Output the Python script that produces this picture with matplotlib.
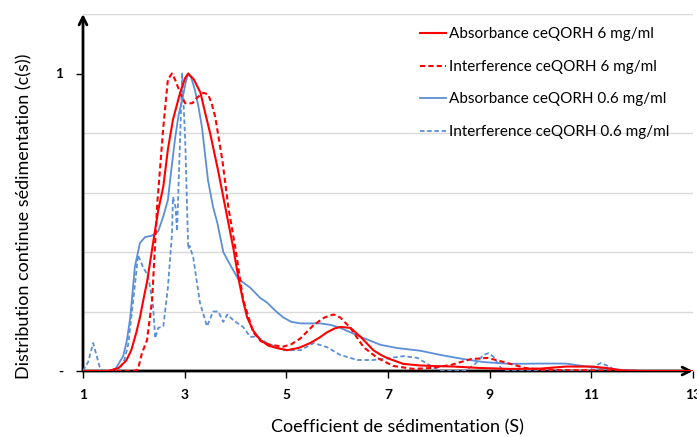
import matplotlib
matplotlib.use("Agg")
import matplotlib.pyplot as plt
from matplotlib.ticker import FixedLocator

plt.rcParams['font.family'] = ['Lato', 'DejaVu Sans']

# ---- data ----
abs6_x = [1.0, 1.5, 1.7, 1.85, 1.95, 2.05, 2.12, 2.2, 2.26, 2.36, 2.48, 2.58, 2.67, 2.77, 2.91, 3.01, 3.07,
          3.18, 3.31, 3.4, 3.5, 3.65, 3.8, 3.96, 4.06, 4.15, 4.23, 4.35, 4.49, 4.65, 4.82, 5.02, 5.25,
          5.47, 5.65, 5.8, 5.95, 6.06, 6.26, 6.46, 6.6, 6.71, 6.85, 6.99, 7.3, 7.6, 7.84, 8.3, 8.82,
          9.4, 10.0, 10.5, 11.0, 11.3, 11.6, 12.0, 13.0]
abs6_y = [0, 0, 0.01, 0.035, 0.07, 0.13, 0.18, 0.25, 0.30, 0.41, 0.54, 0.62, 0.745, 0.845, 0.935, 0.985, 1.0,
          0.98, 0.936, 0.87, 0.80, 0.68, 0.55, 0.41, 0.31, 0.235, 0.18, 0.135, 0.104, 0.085, 0.077, 0.07, 0.078,
          0.094, 0.112, 0.13, 0.143, 0.148, 0.145, 0.115, 0.09, 0.07, 0.055, 0.043, 0.024, 0.019, 0.017, 0.015, 0.01,
          0.007, 0.008, 0.015, 0.015, 0.01, 0.002, 0, 0]

int6_x = [1.0, 2.0, 2.08, 2.16, 2.26, 2.36, 2.46, 2.58, 2.67, 2.75, 2.81, 2.91, 3.01, 3.15, 3.25, 3.37,
          3.46, 3.53, 3.6, 3.74, 3.86, 4.0, 4.15, 4.35, 4.5, 4.68, 4.94, 5.1, 5.28, 5.54, 5.75, 5.93,
          6.06, 6.26, 6.52, 6.79, 7.1, 7.5, 7.84, 8.23, 8.63, 8.96, 9.28, 9.7, 10.0, 10.5, 11.0, 12.0, 13.0]
int6_y = [0, 0, 0.005, 0.06, 0.104, 0.24, 0.56, 0.82, 0.98, 1.0, 0.98, 0.935, 0.9, 0.9, 0.92, 0.935,
          0.93, 0.9, 0.855, 0.71, 0.55, 0.41, 0.24, 0.13, 0.1, 0.088, 0.082, 0.09, 0.11, 0.155, 0.18, 0.19,
          0.18, 0.145, 0.08, 0.044, 0.017, 0.007, 0.01, 0.02, 0.04, 0.044, 0.03, 0.01, 0.005, 0.003, 0.002, 0, 0]

abs06_x = [1.0, 1.55, 1.65, 1.79, 1.86, 1.93, 2.02, 2.12, 2.22, 2.36, 2.48, 2.58, 2.67, 2.74, 2.81, 2.88,
           2.95, 3.02, 3.07, 3.13, 3.2, 3.27, 3.34, 3.4, 3.46, 3.56, 3.64, 3.76, 3.84, 4.05, 4.29, 4.49,
           4.62, 4.8, 4.94, 5.1, 5.28, 5.67, 5.87, 6.06, 6.26, 6.46, 6.85, 7.19, 7.64, 8.03, 8.49, 8.88,
           9.4, 10.0, 10.5, 11.0, 11.5, 12.0, 13.0]
abs06_y = [0, 0, 0.01, 0.05, 0.1, 0.18, 0.35, 0.43, 0.45, 0.455, 0.47, 0.52, 0.575, 0.68, 0.78, 0.86,
           0.91, 0.97, 1.0, 0.985, 0.946, 0.89, 0.82, 0.73, 0.64, 0.55, 0.5, 0.4, 0.374, 0.31, 0.28, 0.245,
           0.23, 0.2, 0.18, 0.165, 0.16, 0.16, 0.155, 0.145, 0.13, 0.115, 0.088, 0.077, 0.068, 0.054, 0.04, 0.03,
           0.024, 0.025, 0.025, 0.013, 0.005, 0, 0]

int06_x = [1.0, 1.1, 1.2, 1.27, 1.33, 1.4, 1.7, 1.73, 1.82, 1.89, 1.99, 2.06, 2.08, 2.13, 2.18, 2.28,
           2.33, 2.38, 2.42, 2.48, 2.58, 2.67, 2.75, 2.77, 2.82, 2.85, 2.91, 2.95, 3.01, 3.07, 3.1, 3.17,
           3.3, 3.44, 3.56, 3.66, 3.76, 3.84, 3.96, 4.15, 4.29, 4.43, 4.62, 4.94, 5.28, 5.54, 5.8, 6.06,
           6.26, 6.4, 6.71, 7.05, 7.31, 7.58, 7.84, 8.03, 8.5, 8.69, 8.88, 8.98, 9.08, 9.22, 9.3, 10.9,
           11.05, 11.19, 11.35, 11.5, 13.0]
int06_y = [0, 0.03, 0.094, 0.05, 0.013, 0, 0, 0.01, 0.04, 0.09, 0.24, 0.35, 0.39, 0.37, 0.35, 0.32,
           0.27, 0.215, 0.11, 0.145, 0.15, 0.28, 0.46, 0.585, 0.55, 0.47, 0.78, 1.0, 0.78, 0.41, 0.42, 0.38,
           0.23, 0.15, 0.2, 0.2, 0.165, 0.19, 0.17, 0.148, 0.115, 0.115, 0.094, 0.07, 0.07, 0.094, 0.08, 0.054,
           0.044, 0.037, 0.037, 0.044, 0.05, 0.044, 0.017, 0, 0, 0.02, 0.054, 0.06, 0.047, 0.01, 0, 0,
           0.015, 0.027, 0.015, 0, 0]

series_labels = ["Absorbance ceQORH 6 mg/ml", "Interference ceQORH 6 mg/ml",
                 "Absorbance ceQORH 0.6 mg/ml", "Interference ceQORH 0.6 mg/ml"]
x_ticks = [1, 3, 5, 7, 9, 11, 13]
y_ticks = [0, 1]
y_tick_labels = ["-", "1"]
x_label = "Coefficient de sédimentation (S)"
y_label = "Distribution continue sédimentation (c(s))"

RED = "#FF0000"
BLUE = "#5B8FD7"

fig = plt.figure(figsize=(6.97, 4.37), dpi=100)
ax = fig.add_axes([83/697, 1 - 371/437, (693-83)/697, (371-14)/437])

ax.plot(abs6_x, abs6_y, color=RED, lw=1.5, label=series_labels[0], zorder=5)
ax.plot(int6_x, int6_y, color=RED, lw=1.5, ls=(0, (2.5, 1.5)), label=series_labels[1], zorder=5)
ax.plot(abs06_x, abs06_y, color=BLUE, lw=1.3, label=series_labels[2], zorder=4)
ax.plot(int06_x, int06_y, color=BLUE, lw=1.3, ls=(0, (2.5, 1.5)), label=series_labels[3], zorder=4)

ax.set_xlim(1, 13)
ax.set_ylim(0, 1.2)

for s in ax.spines.values():
    s.set_visible(False)

# gridlines every 0.2
ax.yaxis.set_minor_locator(FixedLocator([0.2, 0.4, 0.6, 0.8, 1.0, 1.2]))
ax.grid(True, which='minor', axis='y', color='#D9D9D9', lw=1)
ax.set_axisbelow(True)

ax.set_yticks(y_ticks)
ax.set_yticklabels(y_tick_labels, fontweight='bold', fontsize=10)
ax.tick_params(axis='y', which='major', length=5, width=1, pad=9, color='black')
ax.tick_params(axis='y', which='minor', length=0)

ax.set_xticks(x_ticks)
ax.set_xticklabels([str(t) for t in x_ticks], fontweight='bold', fontsize=10)
ax.tick_params(axis='x', length=5, width=1, pad=8, color='black')

# axis lines with arrows
ax.annotate('', xy=(1.0, 0), xytext=(0, 0), xycoords='axes fraction',
            arrowprops=dict(arrowstyle='->', lw=2, color='black', shrinkA=0, shrinkB=0,
                            mutation_scale=14), zorder=3)
ax.annotate('', xy=(0, 1.0), xytext=(0, 0), xycoords='axes fraction',
            arrowprops=dict(arrowstyle='->', lw=2, color='black', shrinkA=0, shrinkB=0,
                            mutation_scale=14), zorder=3)

ax.set_xlabel(x_label, fontsize=13)
ax.set_ylabel(y_label, fontsize=13)
ax.xaxis.set_label_coords(0.516, -0.135)
ax.yaxis.set_label_coords(-0.083, 0.434)

leg = ax.legend(loc='upper left', bbox_to_anchor=(0.552, 0.963), frameon=False,
                fontsize=11, handlelength=1.7, handletextpad=0.2, labelspacing=1.22,
                borderpad=0, borderaxespad=0)

fig.savefig("out.png", dpi=100)
